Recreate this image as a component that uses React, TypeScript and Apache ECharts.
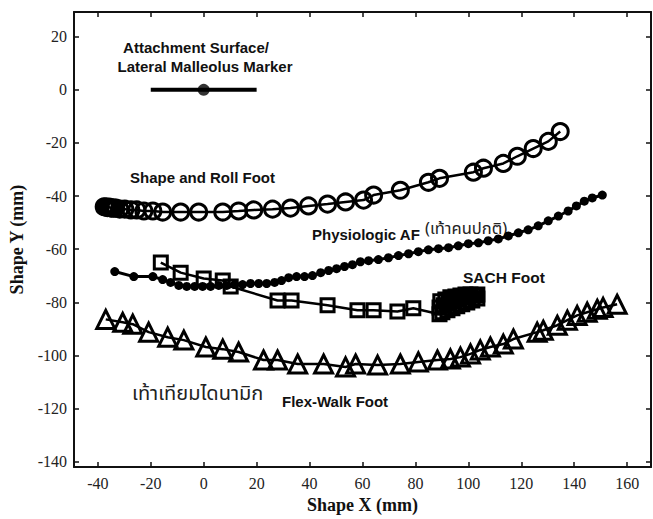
import React, { useEffect, useRef } from "react";
import * as echarts from "echarts";

const xTicks = [-40, -20, 0, 20, 40, 60, 80, 100, 120, 140, 160];
const yTicks = [-140, -120, -100, -80, -60, -40, -20, 0, 20];

const markerLine = [[-20, 0], [20, 0]];
const markerDot = [[0, 0]];

const shapeRoll = [
  [-37.6, -44.0], [-37.0, -44.1], [-36.4, -44.3], [-35.8, -44.1], [-35.2, -44.4],
  [-34.7, -44.5], [-33.9, -44.5], [-33.2, -44.5], [-31.7, -44.9],
  [-29.8, -44.9], [-27.5, -45.2], [-25.3, -45.2], [-22.6, -45.6], [-19.2, -45.6],
  [-15.5, -46.0], [-8.7, -46.0], [-1.9, -46.0], [7.2, -46.0], [13.2, -45.6],
  [18.9, -45.2], [26.0, -44.9], [32.8, -44.5], [39.6, -43.7], [46.8, -43.0],
  [53.6, -42.2], [60.4, -41.5], [64.2, -39.6], [74.3, -37.8], [84.9, -34.8],
  [89.1, -33.3], [101.9, -31.0], [105.7, -29.5], [113.2, -27.7], [118.5, -25.0],
  [124.5, -22.1], [130.2, -19.4], [134.7, -15.7],
];

const physiologic = [
  [-33.6, -68.4], [-26.4, -70.3], [-19.2, -70.3], [-15.5, -71.4], [-12.5, -72.5],
  [-9.4, -73.6], [-6.4, -74.0], [-3.4, -74.0], [-0.4, -74.0], [2.6, -74.0],
  [5.7, -73.6], [8.7, -73.6], [11.7, -73.3], [14.7, -73.3], [17.7, -72.9],
  [20.8, -72.9], [23.8, -72.9], [26.8, -72.5], [29.4, -71.8], [32.1, -70.7],
  [35.1, -70.3], [38.1, -70.3], [41.1, -69.9], [44.2, -68.8], [47.2, -68.0],
  [50.2, -67.3], [53.2, -66.5], [56.2, -65.8], [59.2, -64.7], [62.3, -64.3],
  [66.0, -63.9], [69.8, -63.2], [73.6, -62.4], [77.4, -61.7], [81.1, -60.9],
  [84.9, -60.2], [88.7, -59.8], [92.5, -59.4], [96.2, -58.7], [100.0, -57.9],
  [103.8, -57.6], [107.5, -56.8], [111.3, -56.1], [115.1, -55.0], [118.9, -53.8],
  [122.6, -52.7], [126.4, -51.2], [130.2, -49.3], [134.0, -47.5], [137.7, -45.6],
  [140.8, -43.7], [143.8, -41.9], [146.8, -40.7], [150.6, -39.6],
];

const sach = [
  [-16.2, -65.0], [-8.7, -68.8], [0.0, -71.0], [7.2, -71.8], [10.2, -74.0],
  [27.9, -79.3], [33.2, -79.3], [46.8, -81.1], [58.1, -83.0], [64.2, -83.0],
  [73.2, -83.4], [79.2, -82.2],
  [89.1, -84.5], [89.1, -81.9], [89.4, -79.6], [90.2, -83.7], [90.6, -81.1],
  [91.3, -78.9], [92.1, -83.0], [92.5, -80.4], [93.2, -78.1], [94.0, -82.2],
  [94.3, -79.6], [95.1, -77.8], [95.8, -81.5], [96.2, -78.9], [97.0, -77.4],
  [97.7, -80.7], [98.1, -78.1], [98.9, -77.0], [99.6, -80.0], [100.0, -77.8],
  [100.8, -77.0], [101.5, -79.3], [101.9, -77.4], [102.6, -77.4], [103.4, -78.5],
  [103.4, -77.0],
];

const flexWalk = [
  [-37.0, -86.4], [-30.6, -87.5], [-26.8, -88.2], [-20.8, -91.2], [-13.6, -93.1],
  [-7.5, -94.2], [0.8, -96.8], [7.2, -97.6], [13.2, -98.7], [22.6, -101.7],
  [27.9, -101.7], [35.5, -103.2], [45.3, -103.2], [53.6, -104.3], [57.4, -103.2],
  [65.7, -103.6], [74.3, -103.2], [81.1, -102.4], [88.3, -101.7], [93.2, -101.3],
  [97.0, -100.6], [100.8, -99.4], [104.5, -97.9], [108.3, -96.8], [113.2, -95.7],
  [117.0, -93.8], [126.0, -91.2], [128.3, -90.5], [133.6, -88.6], [137.4, -86.7],
  [141.1, -84.9], [144.9, -83.7], [148.7, -82.6], [150.9, -81.9], [156.2, -80.7],
];

const X_MIN = -49;
const X_MAX = 169;
const Y_MIN = -142;
const Y_MAX = 29.3;

const AX = "#111";
const SANS = "'Liberation Sans', Arial, sans-serif";
const SERIF = "'Liberation Serif', 'Times New Roman', serif";
const THAI = "'Noto Sans Thai', 'Noto Sans', sans-serif";

export default function App() {
  const ref = useRef<HTMLDivElement>(null);

  useEffect(() => {
    if (!ref.current) return;
    const chart = echarts.init(ref.current, undefined, { renderer: "svg" });

    const axisLine = { show: true, onZero: false, lineStyle: { color: AX, width: 2 } };
    const hollow = (size: number, symbol: string) => ({
      symbol,
      symbolSize: size,
      itemStyle: { color: "rgba(0,0,0,0)", borderColor: "#000", borderWidth: 3 },
      lineStyle: { color: "#000", width: 2.5 },
    });

    const option: any = {
      animation: false,
      backgroundColor: "#fff",
      grid: { left: 73, right: 2, top: 12, bottom: 49, containLabel: false },
      xAxis: [
        {
          type: "value",
          position: "bottom",
          min: X_MIN,
          max: X_MAX,
          axisLine,
          axisTick: { show: true, inside: true, length: 5, customValues: xTicks, lineStyle: { color: AX, width: 1.5 } },
          axisLabel: { customValues: xTicks, fontFamily: SERIF, fontSize: 16, color: "#222", margin: 8 },
          splitLine: { show: false },
          name: "Shape X (mm)",
          nameLocation: "middle",
          nameGap: 26,
          nameTextStyle: { fontFamily: SERIF, fontSize: 18, fontWeight: "bold", color: "#111" },
        },
        {
          type: "value",
          position: "top",
          min: X_MIN,
          max: X_MAX,
          axisLine,
          axisTick: { show: true, inside: true, length: 5, customValues: xTicks, lineStyle: { color: AX, width: 1.5 } },
          axisLabel: { show: false },
          splitLine: { show: false },
        },
      ],
      yAxis: [
        {
          type: "value",
          position: "left",
          min: Y_MIN,
          max: Y_MAX,
          axisLine,
          axisTick: { show: true, inside: true, length: 5, customValues: yTicks, lineStyle: { color: AX, width: 1.5 } },
          axisLabel: { customValues: yTicks, fontFamily: SERIF, fontSize: 16, color: "#222", margin: 7 },
          splitLine: { show: false },
          name: "Shape Y (mm)",
          nameLocation: "middle",
          nameGap: 48,
          nameTextStyle: { fontFamily: SERIF, fontSize: 18, fontWeight: "bold", color: "#111" },
        },
        {
          type: "value",
          position: "right",
          min: Y_MIN,
          max: Y_MAX,
          axisLine,
          axisTick: { show: true, inside: true, length: 5, customValues: yTicks, lineStyle: { color: AX, width: 1.5 } },
          axisLabel: { show: false },
          splitLine: { show: false },
        },
      ],
      series: [
        {
          type: "line",
          data: markerLine,
          symbol: "none",
          lineStyle: { color: "#000", width: 4 },
          silent: true,
        },
        {
          type: "scatter",
          data: markerDot,
          symbol: "circle",
          symbolSize: 12,
          itemStyle: { color: "#000" },
          silent: true,
        },
        { type: "line", data: shapeRoll, ...hollow(16, "circle"), silent: true },
        {
          type: "line",
          data: physiologic,
          symbol: "circle",
          symbolSize: 9,
          itemStyle: { color: "#000" },
          lineStyle: { color: "#000", width: 3 },
          silent: true,
        },
        { type: "line", data: sach, ...hollow(13, "rect"), silent: true },
        { type: "line", data: flexWalk, ...hollow(18, "triangle"), silent: true },
      ],
      graphic: [
        { type: "text", x: 196, y: 47, style: { text: "Attachment Surface/", font: `bold 15px ${SANS}`, fill: "#111", align: "center", verticalAlign: "middle" } },
        { type: "text", x: 205, y: 66, style: { text: "Lateral Malleolus Marker", font: `bold 15px ${SANS}`, fill: "#111", align: "center", verticalAlign: "middle" } },
        { type: "text", x: 130, y: 177, style: { text: "Shape and Roll Foot", font: `bold 15px ${SANS}`, fill: "#111", align: "left", verticalAlign: "middle" } },
        { type: "text", x: 312, y: 234, style: { text: "Physiologic AF", font: `bold 15px ${SANS}`, fill: "#111", align: "left", verticalAlign: "middle" } },
        { type: "text", x: 425, y: 228, style: { text: "(เท้าคนปกติ)", font: `16.5px ${THAI}`, fill: "#222", align: "left", verticalAlign: "middle" } },
        { type: "text", x: 463, y: 277, style: { text: "SACH Foot", font: `bold 15.5px ${SANS}`, fill: "#111", align: "left", verticalAlign: "middle" } },
        { type: "text", x: 132, y: 394, style: { text: "เท้าเทียมไดนามิก", font: `20px ${THAI}`, fill: "#222", align: "left", verticalAlign: "middle" } },
        { type: "text", x: 282, y: 401, style: { text: "Flex-Walk Foot", font: `bold 15px ${SANS}`, fill: "#111", align: "left", verticalAlign: "middle" } },
      ],
    };

    chart.setOption(option);
    return () => chart.dispose();
  }, []);

  return (
    <div
      ref={ref}
      style={{ position: "fixed", left: 0, top: 0, width: 653, height: 519, background: "#fff" }}
    />
  );
}
